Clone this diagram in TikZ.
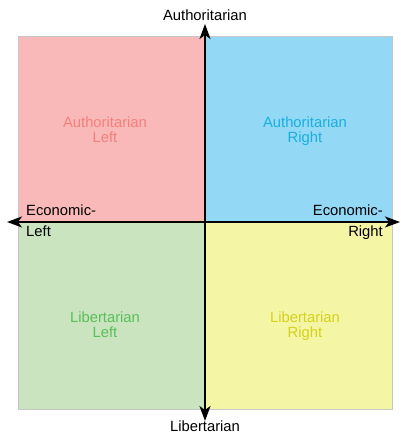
\documentclass[tikz,border=0pt]{standalone}
\usepackage{fontspec}
\setmainfont{Liberation Sans}
\usetikzlibrary{arrows.meta}

\definecolor{authleft}{HTML}{F9B9B9}
\definecolor{authright}{HTML}{93D8F5}
\definecolor{libleft}{HTML}{C9E4BF}
\definecolor{libright}{HTML}{F5F5A6}
\definecolor{authlefttext}{HTML}{F47F7F}
\definecolor{authrighttext}{HTML}{1AAFDD}
\definecolor{liblefttext}{HTML}{5ABF5A}
\definecolor{librighttext}{HTML}{D4D11C}

\begin{document}
\begin{tikzpicture}[x=1pt, y=1pt, >={Stealth[length=15pt, width=11pt, inset=4pt]},
  txt/.style={font=\fontsize{14.8}{15}\selectfont, inner sep=0pt},
  quad/.style={txt, align=center, anchor=north}]
  \useasboundingbox (0,0) rectangle (401,434);

  % Quadrants
  \fill[authleft] (18,212) rectangle (205,398);
  \fill[authright] (205,212) rectangle (392,398);
  \fill[libleft] (18,25) rectangle (205,212);
  \fill[libright] (205,25) rectangle (392,212);
  \draw[gray!45, line width=0.7pt] (18,25) rectangle (392,398);

  % Quadrant labels
  \node[quad, text=authlefttext] (AL) at (105,317) {Authoritarian\\Left};
  \node[quad, text=authrighttext] (AR) at (305,317) {Authoritarian\\Right};
  \node[quad, text=liblefttext] (LL) at (105,122) {Libertarian\\Left};
  \node[quad, text=librighttext] (LR) at (305,122) {Libertarian\\Right};

  % Axes
  \coordinate (N) at (205,410);
  \coordinate (S) at (205,13);
  \coordinate (W) at (7,212);
  \coordinate (E) at (400,212);
  \draw[<->, line width=1.8pt] (N) -- (S);
  \draw[<->, line width=1.8pt] (W) -- (E);

  % Axis labels
  \node[txt, anchor=base] (auth) at (205,413) {Authoritarian};
  \node[txt, anchor=base] (lib) at (205,2) {Libertarian};
  \node[txt, anchor=base west] (econL1) at (26,218) {Economic-};
  \node[txt, anchor=base west] (econL2) at (26,197) {Left};
  \node[txt, anchor=base east] (econR1) at (383,218) {Economic-};
  \node[txt, anchor=base east] (econR2) at (383,197) {Right};
\end{tikzpicture}
\end{document}
